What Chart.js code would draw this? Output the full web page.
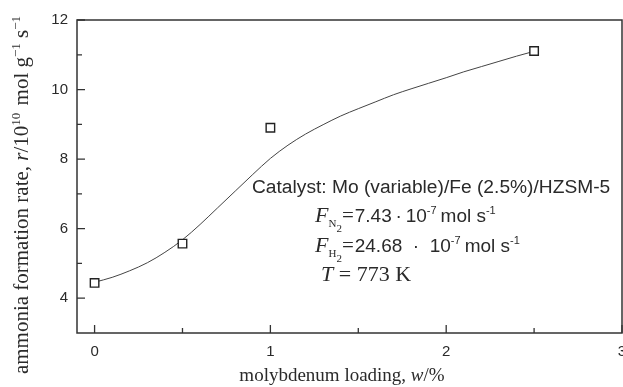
<!DOCTYPE html>
<html>
<head>
<meta charset="utf-8">
<script src="https://cdn.jsdelivr.net/npm/chart.js@4"></script>
<style>
html,body{margin:0;padding:0;background:#fff;}
#c{display:block;}
</style>
</head>
<body>
<canvas id="c" width="623" height="387"></canvas>
<script>
// ---- data ----
const loading = [0, 0.5, 1, 2.5];
const rate = [4.44, 5.57, 8.90, 11.11];
const curveX = [0, 0.1, 0.2, 0.3, 0.4, 0.5, 0.6, 0.7, 0.8, 0.9, 1.0, 1.1, 1.2, 1.3, 1.4, 1.5, 1.6, 1.7, 1.8, 1.9, 2.0, 2.1, 2.2, 2.3, 2.4, 2.5];
const curveY = [4.46, 4.60, 4.79, 5.02, 5.32, 5.68, 6.12, 6.60, 7.08, 7.56, 8.02, 8.40, 8.72, 8.99, 9.24, 9.45, 9.65, 9.85, 10.02, 10.18, 10.34, 10.51, 10.66, 10.81, 10.96, 11.10];
const xTicks = [0, 1, 2, 3];
const xMinorTicks = [0.5, 1.5, 2.5];
const yTicks = [4, 6, 8, 10, 12];
const yMinorTicks = [5, 7, 9, 11];

const SANS = '"Liberation Sans", Arial, sans-serif';
const SERIF = '"Liberation Serif", "Times New Roman", serif';
const INK = '#2a2a2a';

function drawRich(ctx, x, y, segs) {
  let cx = x;
  for (const s of segs) {
    ctx.font = s.f;
    ctx.fillText(s.t, cx, y + (s.dy || 0));
    cx += ctx.measureText(s.t).width + (s.gap || 0);
  }
  return cx - x;
}
function richWidth(ctx, segs) {
  let w = 0;
  for (const s of segs) { ctx.font = s.f; w += ctx.measureText(s.t).width + (s.gap || 0); }
  return w;
}

const framePlugin = {
  id: 'frame',
  afterDatasetsDraw(chart) {
    const ctx = chart.ctx, a = chart.chartArea;
    const xs = chart.scales.x, ys = chart.scales.y;
    ctx.save();
    ctx.strokeStyle = '#333';
    ctx.lineWidth = 1.5;
    ctx.strokeRect(a.left, a.top, a.right - a.left, a.bottom - a.top);
    ctx.lineWidth = 1.3;
    ctx.beginPath();
    for (const v of xTicks) { const p = xs.getPixelForValue(v); ctx.moveTo(p, a.bottom); ctx.lineTo(p, a.bottom - 8); }
    for (const v of xMinorTicks) { const p = xs.getPixelForValue(v); ctx.moveTo(p, a.bottom); ctx.lineTo(p, a.bottom - 5); }
    for (const v of yTicks) { const p = ys.getPixelForValue(v); ctx.moveTo(a.left, p); ctx.lineTo(a.left + 8, p); }
    for (const v of yMinorTicks) { const p = ys.getPixelForValue(v); ctx.moveTo(a.left, p); ctx.lineTo(a.left + 5, p); }
    ctx.stroke();
    ctx.restore();
  },
  afterDraw(chart) {
    const ctx = chart.ctx;
    ctx.save();
    ctx.fillStyle = INK;
    ctx.textBaseline = 'alphabetic';
    // y title (rotated)
    const T = 21, S = 13;
    const ySegs = [
      {t: 'ammonia formation rate, ', f: `${T}px ${SERIF}`},
      {t: 'r', f: `italic ${T}px ${SERIF}`},
      {t: '/10', f: `${T}px ${SERIF}`},
      {t: '10', f: `${S}px ${SERIF}`, dy: -8, gap: 2},
      {t: ' mol g', f: `${T}px ${SERIF}`},
      {t: '\u22121', f: `${S}px ${SERIF}`, dy: -8},
      {t: ' s', f: `${T}px ${SERIF}`},
      {t: '\u22121', f: `${S}px ${SERIF}`, dy: -8}
    ];
    const yw = richWidth(ctx, ySegs);
    ctx.save();
    ctx.translate(28, 195 + yw / 2);
    ctx.rotate(-Math.PI / 2);
    drawRich(ctx, 0, 0, ySegs);
    ctx.restore();
    // x title
    const xSegs = [
      {t: 'molybdenum loading, ', f: `19px ${SERIF}`},
      {t: 'w', f: `italic 19px ${SERIF}`},
      {t: '/%', f: `19px ${SERIF}`}
    ];
    const xw = richWidth(ctx, xSegs);
    drawRich(ctx, 342 - xw / 2, 381, xSegs);
    // annotation
    drawRich(ctx, 252, 193, [{t: 'Catalyst: Mo (variable)/Fe (2.5%)/HZSM-5', f: `19.2px ${SANS}`}]);
    const B = 19, sb = 11;
    drawRich(ctx, 315, 222, [
      {t: 'F', f: `italic 22px ${SERIF}`},
      {t: 'N', f: `${sb}px ${SERIF}`, dy: 5},
      {t: '2', f: `${sb}px ${SERIF}`, dy: 10},
      {t: '=', f: `21px ${SERIF}`, gap: 1},
      {t: '7.43\u2009\u00b7\u200910', f: `${B}px ${SANS}`},
      {t: '-7', f: `${sb}px ${SANS}`, dy: -8, gap: 4},
      {t: 'mol s', f: `${B}px ${SANS}`},
      {t: '-1', f: `${sb}px ${SANS}`, dy: -8}
    ]);
    drawRich(ctx, 315, 252, [
      {t: 'F', f: `italic 22px ${SERIF}`},
      {t: 'H', f: `${sb}px ${SERIF}`, dy: 5},
      {t: '2', f: `${sb}px ${SERIF}`, dy: 10},
      {t: '=', f: `21px ${SERIF}`, gap: 1},
      {t: '24.68  \u00b7  10', f: `${B}px ${SANS}`},
      {t: '-7', f: `${sb}px ${SANS}`, dy: -8, gap: 4},
      {t: 'mol s', f: `${B}px ${SANS}`},
      {t: '-1', f: `${sb}px ${SANS}`, dy: -8}
    ]);
    drawRich(ctx, 321, 281, [
      {t: 'T', f: `italic 22px ${SERIF}`},
      {t: ' = 773 K', f: `22px ${SERIF}`}
    ]);
    ctx.restore();
  }
};

new Chart(document.getElementById('c'), {
  type: 'scatter',
  data: {
    datasets: [
      {
        type: 'line',
        data: curveX.map((x, i) => ({x, y: curveY[i]})),
        borderColor: '#444',
        borderWidth: 1,
        pointRadius: 0,
        cubicInterpolationMode: 'monotone',
        fill: false,
        order: 2
      },
      {
        data: loading.map((x, i) => ({x, y: rate[i]})),
        pointStyle: 'rect',
        pointRadius: 6,
        pointBorderWidth: 1.4,
        pointBackgroundColor: '#fff',
        pointBorderColor: '#222',
        showLine: false,
        order: 1
      }
    ]
  },
  options: {
    responsive: false,
    devicePixelRatio: 1,
    animation: false,
    layout: {autoPadding: false, padding: {top: 20, right: 1, left: 0, bottom: 0}},
    plugins: {legend: {display: false}, tooltip: {enabled: false}},
    scales: {
      x: {
        type: 'linear', min: -0.1, max: 3,
        afterBuildTicks: s => { s.ticks = xTicks.map(v => ({value: v})); },
        afterFit: s => { s.height = 54; s.paddingLeft = 0; s.paddingRight = 0; },
        grid: {display: false, drawTicks: false},
        border: {display: false},
        ticks: {padding: 10, color: INK, font: {family: SANS, size: 15}, autoSkip: false, maxRotation: 0}
      },
      y: {
        type: 'linear', min: 3, max: 12,
        afterBuildTicks: s => { s.ticks = yTicks.map(v => ({value: v})); },
        afterFit: s => { s.width = 77; s.paddingTop = 0; s.paddingBottom = 0; },
        grid: {display: false, drawTicks: false},
        border: {display: false},
        ticks: {padding: 9, color: INK, font: {family: SANS, size: 15}, autoSkip: false}
      }
    }
  },
  plugins: [framePlugin]
});
</script>
</body>
</html>
